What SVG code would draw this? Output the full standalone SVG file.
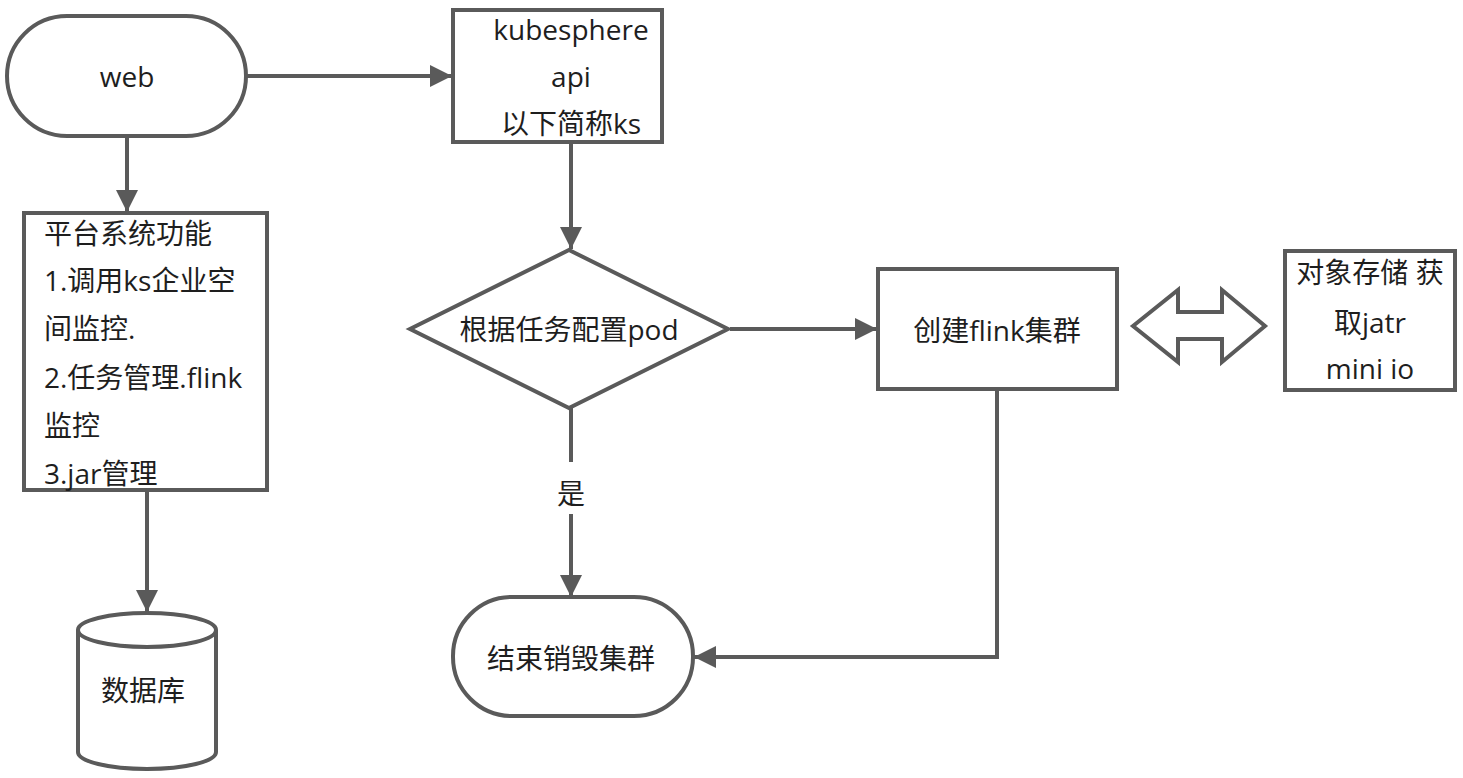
<svg xmlns="http://www.w3.org/2000/svg" width="1463" height="778" viewBox="0 0 1463 778">
<defs>
<style>
.s{fill:#fff;stroke:#5a5a5a;stroke-width:4;}
.c{fill:none;stroke:#5a5a5a;stroke-width:4;}
.t{font-family:"Open Sans","Noto Sans CJK SC",sans-serif;font-size:28px;fill:#1e1e1e;}
.m{text-anchor:middle;dominant-baseline:central;}
</style>
<marker id="ah" viewBox="0 0 10 10" refX="10" refY="5" markerWidth="5.5" markerHeight="5.5" orient="auto" markerUnits="strokeWidth">
<path d="M0,0 L10,5 L0,10 z" fill="#5a5a5a"/>
</marker>
</defs>
<rect width="1463" height="778" fill="#fff"/>
<g id="connectors">
<line class="c" x1="246" y1="76" x2="452" y2="76" marker-end="url(#ah)"/>
<line class="c" x1="127" y1="136" x2="127" y2="212" marker-end="url(#ah)"/>
<line class="c" x1="147" y1="490" x2="147" y2="612" marker-end="url(#ah)"/>
<line class="c" x1="571" y1="142" x2="571" y2="249" marker-end="url(#ah)"/>
<line class="c" x1="730" y1="329" x2="877" y2="329" marker-end="url(#ah)"/>
<line class="c" x1="571" y1="408" x2="571" y2="462"/>
<line class="c" x1="571" y1="514" x2="571" y2="597" marker-end="url(#ah)"/>
<polyline class="c" points="997,389 997,657 694,657" marker-end="url(#ah)"/>
<text class="t m" x="571" y="493">是</text>
<polygon class="s" points="1133,326 1178,290 1178,312 1222,312 1222,290 1265,326 1222,362 1222,339 1178,339 1178,362"/>
</g>
<g id="web">
<rect class="s" x="7" y="16" width="239" height="120" rx="60" ry="60"/>
<text class="t m" x="127" y="76">web</text>
</g>
<g id="ks">
<rect class="s" x="453" y="10" width="209" height="132"/>
<text class="t m" x="571" y="29">kubesphere</text>
<text class="t m" x="571" y="76">api</text>
<text class="t m" x="571" y="123">以下简称ks</text>
</g>
<g id="platform">
<rect class="s" x="24" y="213" width="243" height="277"/>
<text class="t" x="44" y="233" dominant-baseline="central">平台系统功能</text>
<text class="t" x="44" y="280" dominant-baseline="central">1.调用ks企业空</text>
<text class="t" x="44" y="328" dominant-baseline="central">间监控.</text>
<text class="t" x="44" y="377" dominant-baseline="central">2.任务管理.flink</text>
<text class="t" x="44" y="425" dominant-baseline="central">监控</text>
<text class="t" x="44" y="473" dominant-baseline="central">3.jar管理</text>
</g>
<g id="db">
<path class="s" d="M78,630 A69,17 0 0 1 216,630 L216,752 A69,17 0 0 1 78,752 Z"/>
<path class="c" d="M78,630 A69,17 0 0 0 216,630"/>
<text class="t m" x="143" y="690">数据库</text>
</g>
<g id="decision">
<polygon class="s" points="569,250 728,329 569,408 410,329"/>
<text class="t m" x="569" y="329">根据任务配置pod</text>
</g>
<g id="flink">
<rect class="s" x="878" y="269" width="239" height="120"/>
<text class="t m" x="997" y="330">创建flink集群</text>
</g>
<g id="minio">
<rect class="s" x="1285" y="251" width="170" height="139"/>
<text class="t m" x="1370" y="272">对象存储 获</text>
<text class="t m" x="1370" y="322">取jatr</text>
<text class="t m" x="1370" y="368">mini io</text>
</g>
<g id="end">
<rect class="s" x="453" y="597" width="240" height="119" rx="59" ry="59"/>
<text class="t m" x="571" y="658">结束销毁集群</text>
</g>
</svg>
